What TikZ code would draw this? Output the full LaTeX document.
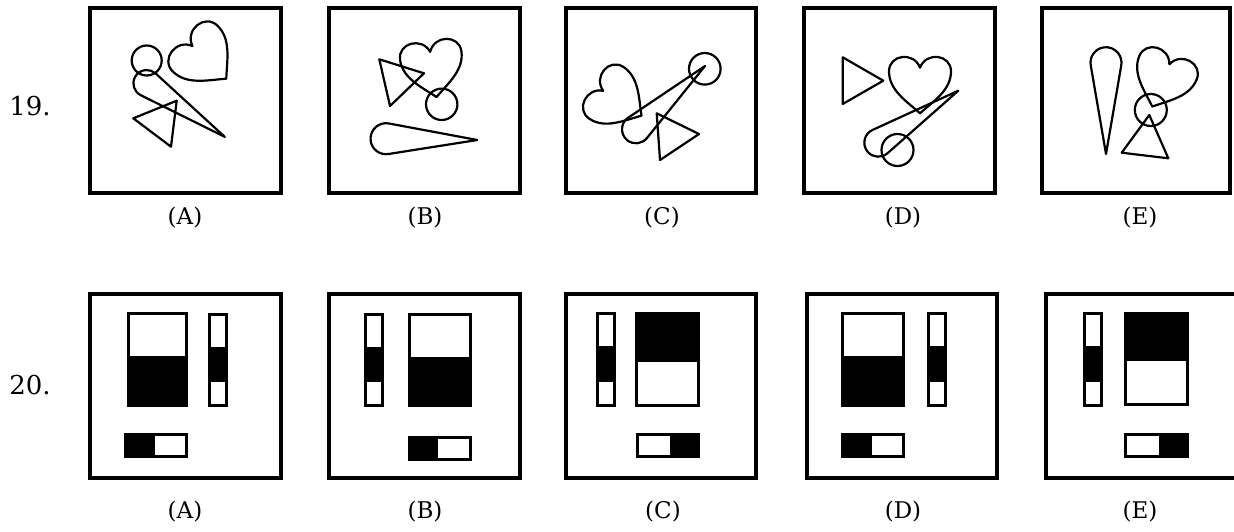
\documentclass[tikz,border=0pt]{standalone}
\usepackage{fontspec}
\setmainfont{DejaVu Serif}
\tikzset{
 frame/.style={line width=3.5pt},
 fig/.style={line width=2.2pt, line join=round},
 blk/.style={line width=3pt},
 lab/.style={font=\fontsize{23}{23}\selectfont, inner sep=0pt},
 num/.style={font=\fontsize{26}{26}\selectfont, inner sep=0pt},
}
\newcommand\heartfig[4]{%
 \begin{scope}[shift={(#1,#2)},rotate=#3,scale=#4]
 \draw[fig] (0,0.75) .. controls (-0.45,0.35) and (-1,0.0) .. (-1,-0.6) .. controls (-1,-1.15) and (-0.2,-1.25) .. (0,-0.72) .. controls (0.2,-1.25) and (1,-1.15) .. (1,-0.6) .. controls (1,0.0) and (0.45,0.35) .. (0,0.75) -- cycle;
 \end{scope}}
\newcommand\tdrop[5]{%
 \pgfmathsetmacro\dd{veclen(#3-#1,#4-#2)}%
 \pgfmathsetmacro\ang{atan2(#2-#4,#3-#1)}%
 \pgfmathsetmacro\al{acos(#5/\dd)}%
 \begin{scope}[shift={(#1,#2)},rotate=\ang]
  \draw[fig] (\dd,0) -- (\al:#5) arc[start angle=\al, end angle=360-\al, radius=#5] -- cycle;
 \end{scope}}
\newcommand\tallbar[4]{%
 \fill (#1,{#3+0.36*(#4-#3)}) rectangle (#2,{#3+0.74*(#4-#3)});
 \draw[blk] ({#1+1.5},{#3+1.5}) rectangle ({#2-1.5},{#4-1.5});}
\newcommand\bigWB[4]{%
 \fill (#1,{#3+0.465*(#4-#3)}) rectangle (#2,#4);
 \draw[blk] ({#1+1.5},{#3+1.5}) rectangle ({#2-1.5},{#4-1.5});}
\newcommand\bigBW[4]{%
 \fill (#1,#3) rectangle (#2,{#3+0.523*(#4-#3)});
 \draw[blk] ({#1+1.5},{#3+1.5}) rectangle ({#2-1.5},{#4-1.5});}
\newcommand\horBW[4]{%
 \fill (#1,#3) rectangle ({#1+0.48*(#2-#1)},#4);
 \draw[blk] ({#1+1.5},{#3+1.5}) rectangle ({#2-1.5},{#4-1.5});}
\newcommand\horWB[4]{%
 \fill ({#1+0.53*(#2-#1)},#3) rectangle (#2,#4);
 \draw[blk] ({#1+1.5},{#3+1.5}) rectangle ({#2-1.5},{#4-1.5});}
\begin{document}
\begin{tikzpicture}[x=1pt,y=-1pt]
\useasboundingbox (0,0) rectangle (1234,531);
\clip (0,0) rectangle (1234,531);
% row labels
\node[num] (n19) at (30,106) {19.};
\node[num] (n20) at (30,385) {20.};
% top frames
\draw[frame] (90,8) rectangle (281,193);
\draw[frame] (329,8) rectangle (520,193);
\draw[frame] (566,8) rectangle (756,193);
\draw[frame] (804,8) rectangle (995,193);
\draw[frame] (1042,8) rectangle (1230,193);
% bottom frames
\draw[frame] (90,294) rectangle (281,478);
\draw[frame] (329,294) rectangle (520,478);
\draw[frame] (566,294) rectangle (756,478);
\draw[frame] (807,294) rectangle (997,478);
\draw[frame] (1046,294) rectangle (1250,478);
% labels
\node[lab] (ta) at (185,218) {(A)};
\node[lab] (tb) at (425,218) {(B)};
\node[lab] (tc) at (662,218) {(C)};
\node[lab] (td) at (903,218) {(D)};
\node[lab] (te) at (1140,218) {(E)};
\node[lab] (ba) at (185,512) {(A)};
\node[lab] (bb) at (425,512) {(B)};
\node[lab] (bc) at (663,512) {(C)};
\node[lab] (bd) at (903,512) {(D)};
\node[lab] (be) at (1140,512) {(E)};
% 19 A
\draw[fig] (146.7,60.5) circle[radius=15];
\heartfig{209}{62}{46}{32}
\tdrop{146.7}{83.3}{225}{137}{13.3}
\draw[fig] (133.3,118.3) -- (176.7,100.7) -- (171,146.7) -- cycle;
% 19 B
\draw[fig] (379.3,59.3) -- (424,73.3) -- (390,106) -- cycle;
\heartfig{433.3}{74}{8}{31}
\draw[fig] (441.7,104.3) circle[radius=15.7];
\tdrop{386}{138.7}{477.3}{140}{15.5}
% 19 C
\draw[fig] (704.8,68.8) circle[radius=15.8];
\heartfig{622}{103}{57}{31}
\tdrop{636}{129.3}{705}{66}{14}
\draw[fig] (656.7,113.3) -- (699,134) -- (660,160) -- cycle;
% 19 D
\draw[fig] (842.7,57.3) -- (883.3,80.7) -- (842.7,104) -- cycle;
\heartfig{920}{90}{0}{31}
\tdrop{878.3}{142.7}{958.3}{90.7}{14}
\draw[fig] (897.5,150) circle[radius=16];
% 19 E
\tdrop{1106}{62.7}{1106}{154}{15.5}
\heartfig{1161}{85}{-22}{31}
\draw[fig] (1150.8,110) circle[radius=16];
\draw[fig] (1149.3,115) -- (1121.7,152.7) -- (1168.3,158.3) -- cycle;
% 20 A
\bigWB{127.3}{187.7}{312.3}{406.7}
\tallbar{208.3}{228.3}{313.3}{406.7}
\horBW{124}{187.7}{433.3}{458.3}
% 20 B
\tallbar{364.3}{384}{313.3}{406.7}
\bigWB{407.7}{472.3}{313.3}{406.7}
\horBW{407.7}{471.7}{435.7}{460.7}
% 20 C
\tallbar{595.7}{615.7}{312.3}{406.7}
\bigBW{635}{700}{312.3}{406.7}
\horWB{635.7}{700}{433.3}{458.3}
% 20 D
\bigWB{841}{905}{312.3}{406.7}
\tallbar{927.3}{947.3}{312.3}{406.7}
\horBW{841}{905}{433.3}{458.3}
% 20 E
\tallbar{1082.7}{1103.3}{312.3}{406.7}
\bigBW{1124.3}{1189}{311.7}{405.7}
\horWB{1124.3}{1189}{433.3}{458.3}
\end{tikzpicture}
\end{document}
